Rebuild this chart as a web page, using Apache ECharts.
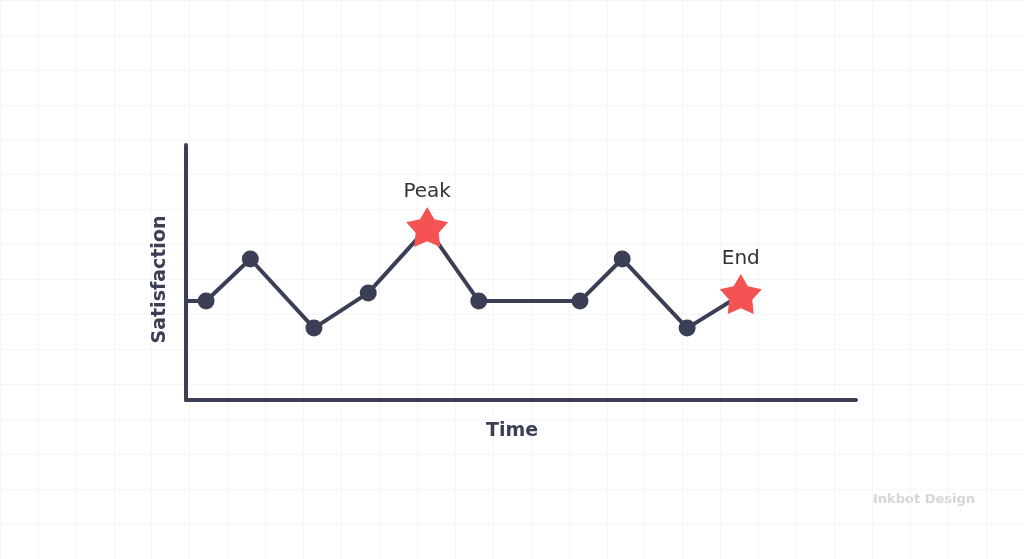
<!DOCTYPE html>
<html>
<head>
<meta charset="utf-8">
<script src="https://cdn.jsdelivr.net/npm/echarts@6/dist/echarts.min.js"></script>
<style>
  html, body { margin: 0; padding: 0; background: #ffffff; }
  #main { width: 1024px; height: 559px; }
</style>
</head>
<body>
<div id="main"></div>
<script>
// time positions (0..100) and satisfaction levels (0..100)
const timeValues = [0, 3.0, 9.6, 19.1, 27.2, 36.0, 43.7, 58.8, 65.1, 74.8, 82.8]
const satisfactionValues = [38.8, 38.8, 55.3, 28.2, 42.0, 67.5, 38.8, 38.8, 55.3, 28.2, 41.2]
// '' = no marker, 'dot' = round marker, otherwise a starred moment with that label
const pointKinds = ['', 'dot', 'dot', 'dot', 'dot', 'Peak', 'dot', 'dot', 'dot', 'dot', 'End']

const navy = '#3b3f55'
const starRed = '#f55353'
const font = 'DejaVu Sans'
// five-pointed star, a bit plump
const starPath = 'path://M100,0L132.33,55.5L195.11,69.1L152.31,117L158.78,180.9L100,155L41.22,180.9L47.69,117L4.89,69.1L67.67,55.5Z'

let myChart = echarts.init(document.getElementById('main'))

let seriesData = timeValues.map((t, i) => {
  let kind = pointKinds[i]
  let item = { value: [t, satisfactionValues[i]] }
  if (kind === '') {
    item.symbol = 'none'
  } else if (kind === 'dot') {
    item.symbol = 'circle'
    item.symbolSize = 17
  } else {
    item.symbol = starPath
    item.symbolSize = [42, 40]
    item.symbolOffset = [0, -1]
    item.itemStyle = { color: starRed }
    item.label = {
      show: true,
      position: 'top',
      distance: 5,
      formatter: kind,
      color: '#333333',
      fontSize: 20,
      fontFamily: font,
    }
  }
  return item
})

let option = {
  backgroundColor: '#ffffff',
  animation: false,
  grid: [
    { left: 186, right: 168, top: 145, bottom: 159 },
    // faint background squares
    { left: -2, top: -26, width: 39 * 27, height: 39 * 16 },
  ],
  xAxis: [
    {
      type: 'value',
      gridIndex: 0,
      min: 0,
      max: 100,
      name: 'Time',
      nameLocation: 'middle',
      nameGap: 22,
      nameTextStyle: {
        color: navy,
        fontSize: 19,
        fontWeight: 'bold',
        fontFamily: font,
        padding: [0, 18, 0, 0],
      },
      axisLine: { show: true, lineStyle: { color: navy, width: 4 } },
      axisTick: { show: false },
      axisLabel: { show: false },
      splitLine: { show: false },
    },
    {
      type: 'value',
      gridIndex: 1,
      min: 0,
      max: 27,
      interval: 1,
      axisLine: { show: false },
      axisTick: { show: false },
      axisLabel: { show: false },
      splitLine: { show: true, lineStyle: { color: '#f5f5f5', width: 1 } },
    },
  ],
  yAxis: [
    {
      type: 'value',
      gridIndex: 0,
      min: 0,
      max: 100,
      name: 'Satisfaction',
      nameLocation: 'middle',
      nameGap: 16,
      nameTextStyle: {
        color: navy,
        fontSize: 19,
        fontWeight: 'bold',
        fontFamily: font,
        padding: [0, 14, 0, 0],
      },
      axisLine: { show: true, lineStyle: { color: navy, width: 4 } },
      axisTick: { show: false },
      axisLabel: { show: false },
      splitLine: { show: false },
    },
    {
      type: 'value',
      gridIndex: 1,
      min: 0,
      max: 16,
      interval: 1,
      inverse: true,
      axisLine: { show: false },
      axisTick: { show: false },
      axisLabel: { show: false },
      splitLine: { show: true, lineStyle: { color: '#f5f5f5', width: 1 } },
    },
  ],
  graphic: [
    {
      type: 'text',
      left: 873,
      top: 493,
      style: {
        text: 'Inkbot Design',
        fill: '#d6d6d6',
        font: 'bold 13px ' + font,
      },
    },
  ],
  series: [
    {
      type: 'line',
      xAxisIndex: 0,
      yAxisIndex: 0,
      data: seriesData,
      z: 5,
      lineStyle: { color: navy, width: 4 },
      itemStyle: { color: navy, borderWidth: 0 },
      showAllSymbol: true,
    },
  ],
}
myChart.setOption(option) // 绘制画布
</script>
</body>
</html>
